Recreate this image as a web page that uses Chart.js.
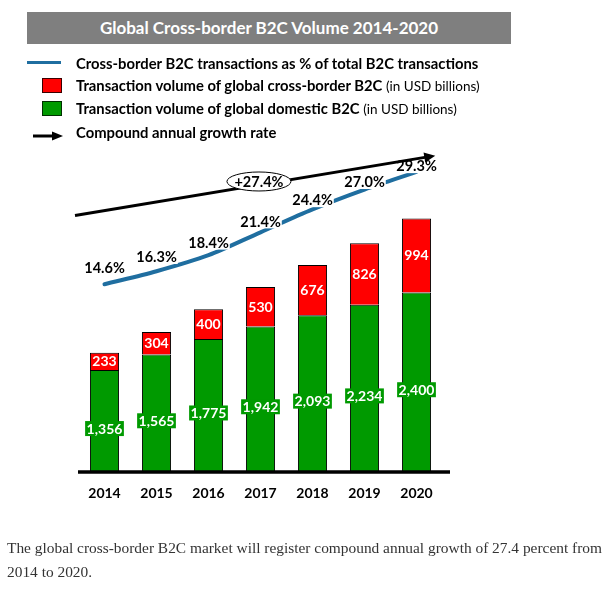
<!DOCTYPE html>
<html>
<head>
<meta charset="utf-8">
<script src="https://cdn.jsdelivr.net/npm/chart.js@4/dist/chart.umd.min.js"></script>
<style>
  html, body { margin: 0; padding: 0; background: #fff; }
  #wrap { position: relative; width: 612px; height: 592px; overflow: hidden; }
  #chart { position: absolute; left: 0; top: 0; }
  .abs { position: absolute; white-space: nowrap; }
  #title { left: 27px; top: 12px; width: 484px; height: 32px; background: #7f7f7f; color: #fff;
           font: bold 17px Lato, sans-serif; text-align: center; line-height: 32px; }
  .lg { left: 76px; font: bold 14.8px Lato, sans-serif; color: #000; line-height: 18px; }
  .lg span { font-weight: normal; font-size: 13.5px; }
  #caption { left: 7px; top: 536px; font: 15.4px "Liberation Serif", serif; color: #333; line-height: 24px; }
</style>
</head>
<body>
<div id="wrap">
  <canvas id="chart" width="612" height="592"></canvas>
  <div id="title" class="abs">Global Cross-border B2C Volume 2014-2020</div>
  <div class="abs" style="left:27px;top:60.5px;width:34px;height:3px;background:#1f6ea0;"></div>
  <div class="abs" style="left:42px;top:78px;width:18px;height:13px;background:#ff0000;border:1px solid #3a0000;"></div>
  <div class="abs" style="left:42px;top:101px;width:18px;height:13px;background:#009a00;border:1px solid #003000;"></div>
  <svg class="abs" style="left:32px;top:130px;" width="32" height="12"><line x1="1" y1="6" x2="22" y2="6" stroke="#000" stroke-width="3"/><polygon points="20,1.5 31,6 20,10.5" fill="#000"/></svg>
  <div class="abs lg" style="top:54px;">Cross-border B2C transactions as % of total B2C transactions</div>
  <div class="abs lg" style="top:76px;">Transaction volume of global cross-border B2C <span>(in USD billions)</span></div>
  <div class="abs lg" style="top:99px;">Transaction volume of global domestic B2C <span>(in USD billions)</span></div>
  <div class="abs lg" style="top:123px;">Compound annual growth rate</div>
  <div id="caption" class="abs">The global cross-border B2C market will register compound annual growth of 27.4 percent from<br>2014 to 2020.</div>
</div>
<script>
// ---- data ----
const years = ['2014', '2015', '2016', '2017', '2018', '2019', '2020'];
const domesticB2C = [1356, 1565, 1775, 1942, 2093, 2234, 2400];
const crossBorderB2C = [233, 304, 400, 530, 676, 826, 994];
const crossBorderShare = [14.6, 16.3, 18.4, 21.4, 24.4, 27.0, 29.3];
const cagrText = '+27.4%';

// ---- styles ----
const RED = '#ff0000';
const GREEN = '#009a00';
const BLUE = '#1f6ea0';
const LABEL_FONT = 'bold 14px Lato, sans-serif';
const PCT_FONT = 'bold 14.5px Lato, sans-serif';

const fmt = v => v.toLocaleString('en-US');

const overlay = {
  id: 'overlay',
  afterDatasetsDraw(chart) {
    const ctx = chart.ctx;
    const area = chart.chartArea;
    const xs = chart.scales.x;
    const y2 = chart.scales.y2;
    ctx.save();

    // baseline
    ctx.strokeStyle = '#000';
    ctx.lineWidth = 3.5;
    ctx.beginPath();
    ctx.moveTo(area.left - 0.5, area.bottom + 1);
    ctx.lineTo(area.right + 7.5, area.bottom + 1);
    ctx.stroke();

    ctx.font = LABEL_FONT;
    ctx.textAlign = 'center';
    ctx.textBaseline = 'middle';

    // bar value labels
    const domMeta = chart.getDatasetMeta(1);
    const crMeta = chart.getDatasetMeta(2);
    domMeta.data.forEach((el, i) => {
      const txt = fmt(domesticB2C[i]);
      const cy = (el.y + el.base) / 2 + 8;
      const w = ctx.measureText(txt).width + 3;
      ctx.fillStyle = GREEN;
      ctx.fillRect(el.x - w / 2, cy - 7.5, w, 15);
      ctx.fillStyle = '#fff';
      ctx.fillText(txt, el.x, cy + 0.5);
    });
    crMeta.data.forEach((el, i) => {
      const txt = fmt(crossBorderB2C[i]);
      const cy = (el.y + el.base) / 2;
      ctx.fillStyle = '#fff';
      ctx.fillText(txt, el.x, cy + 0.5);
    });

    // share labels with white background (sit closer to the line further right)
    ctx.font = PCT_FONT;
    const lineMeta = chart.getDatasetMeta(0);
    lineMeta.data.forEach((pt, i) => {
      const txt = crossBorderShare[i].toFixed(1) + '%';
      const cy = pt.y - (16 - i * 1.7);
      const w = ctx.measureText(txt).width + 2;
      ctx.fillStyle = '#fff';
      ctx.fillRect(pt.x - w / 2, cy - 7, w, 14);
      ctx.fillStyle = '#000';
      ctx.fillText(txt, pt.x, cy + 0.5);
    });

    // CAGR arrow
    const ax0 = xs.getPixelForValue(-0.567), ay0 = y2.getPixelForValue(23.6);
    const ax1 = xs.getPixelForValue(6.36), ay1 = y2.getPixelForValue(31.43);
    const ang = Math.atan2(ay1 - ay0, ax1 - ax0);
    const hl = 11, hw = 5;
    const bx = ax1 - hl * Math.cos(ang), by = ay1 - hl * Math.sin(ang);
    ctx.strokeStyle = '#000';
    ctx.lineWidth = 3;
    ctx.beginPath();
    ctx.moveTo(ax0, ay0);
    ctx.lineTo(bx + 2 * Math.cos(ang), by + 2 * Math.sin(ang));
    ctx.stroke();
    ctx.fillStyle = '#000';
    ctx.beginPath();
    ctx.moveTo(ax1, ay1);
    ctx.lineTo(bx + hw * Math.sin(ang), by - hw * Math.cos(ang));
    ctx.lineTo(bx - hw * Math.sin(ang), by + hw * Math.cos(ang));
    ctx.closePath();
    ctx.fill();

    // CAGR ellipse label
    const ex = xs.getPixelForValue(2.97), ey = y2.getPixelForValue(28.05);
    ctx.fillStyle = '#fff';
    ctx.strokeStyle = '#000';
    ctx.lineWidth = 1;
    ctx.beginPath();
    ctx.ellipse(ex, ey, 32, 9.5, 0, 0, Math.PI * 2);
    ctx.fill();
    ctx.stroke();
    ctx.fillStyle = '#000';
    ctx.fillText(cagrText, ex, ey + 0.5);

    ctx.restore();
  }
};

new Chart(document.getElementById('chart'), {
  data: {
    labels: years,
    datasets: [
      {
        type: 'line',
        label: 'Cross-border B2C transactions as % of total B2C transactions',
        data: crossBorderShare,
        yAxisID: 'y2',
        borderColor: BLUE,
        borderWidth: 4,
        borderCapStyle: 'round',
        pointRadius: 0,
        tension: 0.3,
        order: 0
      },
      {
        type: 'bar',
        label: 'Transaction volume of global domestic B2C',
        data: domesticB2C,
        backgroundColor: GREEN,
        borderColor: '#000',
        borderWidth: 1,
        stack: 's',
        yAxisID: 'y',
        order: 2
      },
      {
        type: 'bar',
        label: 'Transaction volume of global cross-border B2C',
        data: crossBorderB2C,
        backgroundColor: RED,
        borderColor: '#000',
        borderWidth: 1,
        stack: 's',
        yAxisID: 'y',
        order: 2
      }
    ]
  },
  options: {
    responsive: false,
    animation: false,
    events: [],
    layout: { padding: { left: 78.5, right: 169.5, top: 140, bottom: 87 } },
    datasets: { bar: { categoryPercentage: 1, barPercentage: 0.56 } },
    plugins: { legend: { display: false }, tooltip: { enabled: false }, title: { display: false } },
    scales: {
      x: {
        stacked: true,
        offset: true,
        grid: { display: false, drawTicks: false },
        border: { display: false },
        ticks: { color: '#000', font: { family: 'Lato', weight: 'bold', size: 14 }, padding: 14 },
        afterFit(scale) { scale.height = 34; }
      },
      y: { stacked: true, min: 0, max: 4449, display: false },
      y2: { min: -9.84, max: 33.48, display: false }
    }
  },
  plugins: [overlay]
});
</script>
</body>
</html>
